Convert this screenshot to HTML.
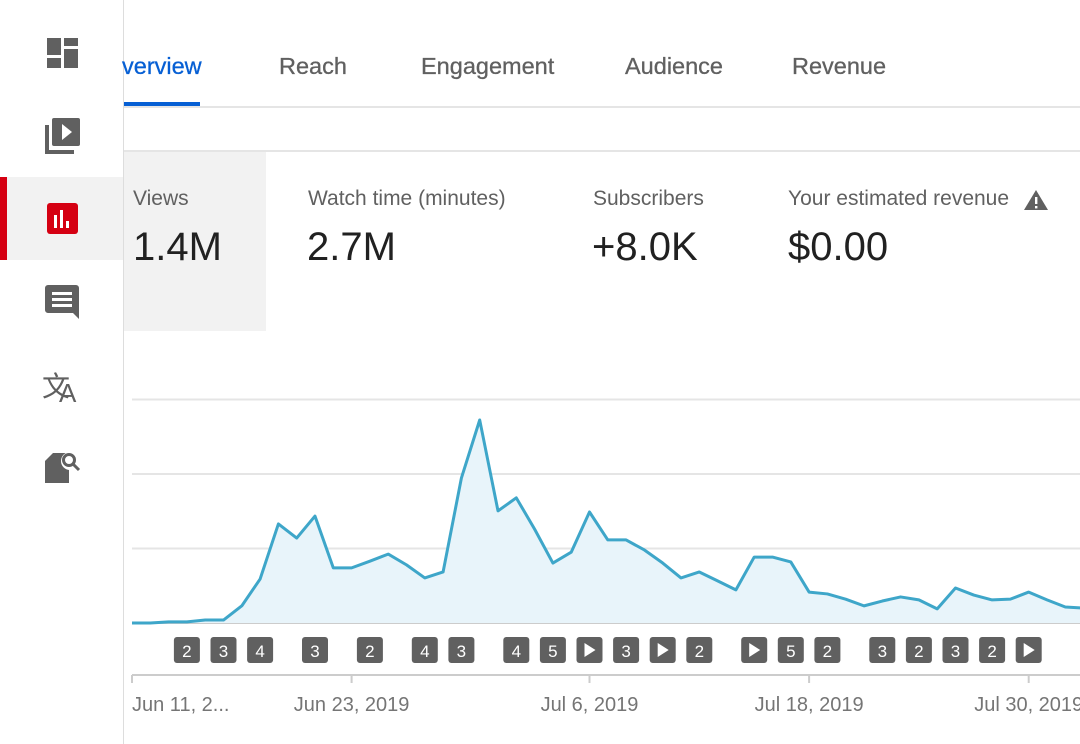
<!DOCTYPE html>
<html><head><meta charset="utf-8">
<style>
body{margin:0;width:1080px;height:744px;overflow:hidden;background:#fff;font-family:"Liberation Sans",sans-serif;position:relative}
.abs{position:absolute}
.tab{position:absolute;top:53px;font-size:23.5px;color:#606060;-webkit-text-stroke:0.3px #606060}
.lbl{position:absolute;top:187px;font-size:21px;color:#606060}
.val{position:absolute;top:225px;font-size:40px;color:#212121}
</style></head><body>
<div class="abs" style="left:0;top:0;width:123px;height:744px;border-right:1px solid #ddd"></div>
<div class="abs" style="left:0;top:177px;width:123px;height:83px;background:#f2f2f2"></div>
<div class="abs" style="left:0;top:177px;width:7px;height:83px;background:#d50012"></div>
<svg class="abs" style="left:0;top:0" width="123" height="744">
<g fill="#606060"><rect x="47" y="38" width="14" height="17"/><rect x="64" y="38" width="14" height="8"/><rect x="47" y="58" width="14" height="10"/><rect x="64" y="49" width="14" height="19"/></g>
<g fill="#606060"><rect x="52" y="118" width="28" height="28" rx="2"/><path d="M45 125h4v25h25v4H45z"/><path d="M62 124l10 8-10 8z" fill="#fff"/></g>
<g><rect x="47" y="203" width="31" height="31" rx="3" fill="#d50012"/><rect x="54" y="215" width="3" height="13" fill="#fff"/><rect x="60" y="210" width="3" height="18" fill="#fff"/><rect x="66" y="221" width="3" height="7" fill="#fff"/></g>
<g fill="#606060"><path d="M48 285h28a3 3 0 0 1 3 3v31l-6-6H48a3 3 0 0 1-3-3v-22a3 3 0 0 1 3-3z"/><rect x="52" y="292" width="20" height="3" fill="#fff"/><rect x="52" y="298" width="20" height="3" fill="#fff"/><rect x="52" y="304" width="20" height="3" fill="#fff"/></g>
<text x="42" y="396" font-size="28" fill="#606060" font-family="DejaVu Sans">文</text>
<text x="59" y="402" font-size="26" fill="#606060" font-family="Liberation Sans">A</text>
<g fill="#606060"><path d="M53 453h16v30H45V461z"/><circle cx="70" cy="461" r="9" fill="#fff"/><circle cx="69" cy="460" r="5.5" fill="none" stroke="#606060" stroke-width="3"/><path d="M73 464l6 6" stroke="#606060" stroke-width="3"/></g>
</svg>
<div class="tab" style="left:122px;color:#065fd4;-webkit-text-stroke:0.3px #065fd4">verview</div>
<div class="abs" style="left:124px;top:102px;width:76px;height:4px;background:#065fd4"></div>
<div class="tab" style="left:279px">Reach</div>
<div class="tab" style="left:421px">Engagement</div>
<div class="tab" style="left:625px">Audience</div>
<div class="tab" style="left:792px">Revenue</div>
<div class="abs" style="left:124px;top:106px;width:956px;height:2px;background:#e5e5e5"></div>
<div class="abs" style="left:124px;top:150px;width:956px;height:2px;background:#e5e5e5"></div>
<div class="abs" style="left:124px;top:152px;width:142px;height:179px;background:#f2f2f2"></div>
<div class="lbl" style="left:133px">Views</div>
<div class="val" style="left:133px">1.4M</div>
<div class="lbl" style="left:308px">Watch time (minutes)</div>
<div class="val" style="left:307px">2.7M</div>
<div class="lbl" style="left:593px">Subscribers</div>
<div class="val" style="left:592px">+8.0K</div>
<div class="lbl" style="left:788px">Your estimated revenue</div>
<svg class="abs" style="left:1023px;top:189px" width="26" height="22"><path d="M13 1L25 21H1z" fill="#606060"/><rect x="12" y="8" width="2.4" height="7" fill="#fff"/><rect x="12" y="17" width="2.4" height="2.4" fill="#fff"/></svg>
<div class="val" style="left:788px">$0.00</div>
<svg id="chart" class="abs" style="left:0;top:0" width="1080" height="744"></svg>
<script>
const values=[0,0,0.3,0.3,0.8,0.8,4.6,11.8,26.6,22.8,28.7,14.8,14.8,16.6,18.5,15.6,12.1,13.7,38.9,54.5,30.1,33.6,25.2,16.1,19.0,29.8,22.3,22.3,19.6,16.1,12.1,13.7,11.3,8.9,17.7,17.7,16.4,8.3,7.8,6.4,4.6,5.9,7.0,6.2,3.8,9.4,7.5,6.2,6.4,8.3,6.2,4.3,4.0];
const yTicks=[0,20,40,60];
const tickDays=[0,12,25,37,49];
const tickLabels=["Jun 11, 2...","Jun 23, 2019","Jul 6, 2019","Jul 18, 2019","Jul 30, 2019"];
const markerDays=[3,5,7,10,13,16,18,21,23,25,27,29,31,34,36,38,41,43,45,47,49];
const markerLabels=["2","3","4","3","2","4","3","4","5","▶","3","▶","2","▶","5","2","3","2","3","2","▶"];
const NS="http://www.w3.org/2000/svg";
const svg=document.getElementById('chart');
const x=i=>132+i*18.3;
const y=v=>623-v*3.725;
function mk(t,a,p){const e=document.createElementNS(NS,t);for(const k in a)e.setAttribute(k,a[k]);(p||svg).appendChild(e);return e;}
yTicks.forEach(v=>{const l=mk('line',{x1:132,x2:1080,y1:y(v),y2:y(v),stroke:v?'#e5e5e5':'#ccc','stroke-width':2});

});
let pts=values.map((v,i)=>x(i)+','+y(v)).join(' ');
const area=mk('polygon',{points:x(0)+','+y(0)+' '+pts+' '+x(values.length-1)+','+y(0),fill:'#e8f4fa'});


const line=mk('polyline',{points:pts,fill:'none',stroke:'#3ea6c9','stroke-width':3,'stroke-linejoin':'round'});


markerDays.forEach((d,k)=>{const g=mk('g',{});


mk('rect',{x:x(d)-13,y:637,width:26,height:26,rx:3,fill:'#606060'},g);
if(markerLabels[k]==='▶')mk('path',{d:`M${x(d)-5} 643l11 7-11 7z`,fill:'#fff'},g);
else{const t=mk('text',{x:x(d),y:657,'text-anchor':'middle','font-size':17,fill:'#fff','font-family':'Liberation Sans'},g);t.textContent=markerLabels[k];}});
mk('line',{x1:132,x2:1080,y1:675,y2:675,stroke:'#ccc','stroke-width':2});
tickDays.forEach((d,k)=>{mk('line',{x1:x(d),x2:x(d),y1:675,y2:683,stroke:'#ccc','stroke-width':2});
const t=mk('text',{x:k?x(d):132,y:711,'text-anchor':k?'middle':'start','font-size':20,fill:'#757575','font-family':'Liberation Sans'});


t.textContent=tickLabels[k];});
</script>
</body></html>
